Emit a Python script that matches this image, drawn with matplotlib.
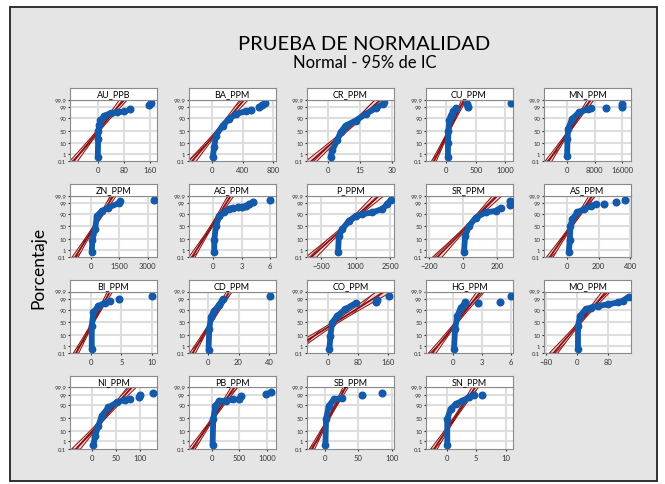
import matplotlib
matplotlib.use('Agg')
import numpy as np
import matplotlib.pyplot as plt
from matplotlib.patches import Rectangle
from statistics import NormalDist

nd = NormalDist()

# panel names, in reading order (5 per row)
NAMES = ['AU_PPB', 'BA_PPM', 'CR_PPM', 'CU_PPM', 'MN_PPM',
         'ZN_PPM', 'AG_PPM', 'P_PPM', 'SR_PPM', 'AS_PPM',
         'BI_PPM', 'CD_PPM', 'CO_PPM', 'HG_PPM', 'MO_PPM',
         'NI_PPM', 'PB_PPM', 'SB_PPM', 'SN_PPM']

XTICKS = [[0, 80, 160], [0, 400, 800], [0, 15, 30], [0, 500, 1000], [0, 8000, 16000],
          [0, 1500, 3000], [0, 3, 6], [-500, 1000, 2500], [-200, 0, 200], [0, 200, 400],
          [0, 5, 10], [0, 20, 40], [0, 80, 160], [0, 3, 6], [-80, 0, 80],
          [0, 50, 100], [0, 500, 1000], [0, 50, 100], [0, 5, 10]]

XLIM = [(-86, 183), (-304, 826), (-10, 31), (-355, 1122), (-6690, 18467),
        (-1092, 3495), (-2.62, 6.57), (-1127, 2675), (-220, 288), (-147, 406),
        (-3.38, 10.82), (-12.3, 43.9), (-55.9, 175), (-2.87, 6.2), (-84.4, 139.6),
        (-44.8, 134.4), (-426, 1159), (-26.5, 103.5), (-3.57, 11.18)]

# fitted normal (mean, stdev)
FIT_MEAN = [2, 80, 8.3, 43, 700, 187, -0.2, 530, 24, 25,
            0.38, 2.2, 20, 0.36, 8, 25, 22, 6, 1.35]
FIT_STDEV = [25, 110, 5.3, 83, 1990, 328, 0.67, 480, 57, 44,
             0.9, 3.85, 42, 0.82, 22, 18.6, 125, 8.1, 1.13]
N_OBS = 90

# main cloud of points: (value, percent)
BODY = [
    [(0, 0.4), (1, 20), (2, 50), (4, 70), (8, 85), (20, 93), (40, 96), (60, 96.5), (80, 97.2)],
    [(10, 0.4), (30, 5), (52, 31), (139, 69), (226, 88), (313, 95), (443, 97.5)],
    [(1.1, 0.4), (1.9, 2.3), (4.2, 16), (5.8, 43), (8.2, 69), (12.9, 84), (17.6, 95),
     (22.3, 98.7), (25.7, 99.6), (26.2, 99.76)],
    [(25, 0.4), (28, 10), (35, 50), (50, 85), (75, 93), (120, 97.5), (160, 98.8)],
    [(0, 0.5), (100, 20), (290, 57), (1470, 88), (3435, 96.6), (5892, 98.3), (7000, 98.7)],
    [(55, 0.6), (90, 9.4), (231, 38), (319, 85), (584, 94), (937, 97.1), (1466, 99), (1554, 99.4)],
    [(0.1, 0.6), (0.1, 9), (0.28, 51), (0.63, 85), (1.16, 92), (1.69, 96), (2.05, 97)],
    [(233, 0.6), (262, 16), (408, 38), (700, 71), (993, 85), (1285, 89), (1724, 92),
     (2163, 96), (2382, 98.7), (2528, 99.6)],
    [(5, 0.6), (11, 16), (34, 51), (73, 81), (131, 92), (190, 94), (220, 97)],
    [(11, 0.6), (17, 9), (21, 51), (32, 76), (65, 92), (108, 96), (151, 98), (183, 98.7)],
    [(0.17, 0.36), (0.17, 36), (0.44, 84), (1.26, 95), (2.35, 97.5), (3.17, 98.2)],
    [(0.66, 0.3), (1.1, 25), (2.2, 71), (4.3, 88), (7.6, 96), (9.7, 99)],
    [(3.6, 0.36), (6.3, 9), (10.7, 49), (24, 74), (46, 90.6), (73, 97.3)],
    [(0.1, 0.36), (0.21, 24.5), (0.45, 74), (0.8, 93), (1.26, 97.2), (1.3, 98)],
    [(3.1, 0.36), (3.1, 35), (8.4, 74), (23, 90.6), (36, 93), (54, 94.9), (80, 96.4),
     (106, 97.7), (119, 98.5), (134, 99.5)],
    [(3.4, 0.36), (6.9, 4), (13.8, 23), (20.7, 60), (34.4, 86), (51.7, 94.4), (69, 96.8), (79, 97.2)],
    [(13, 0.4), (25, 47), (62, 89), (135, 96), (257, 96), (379, 97)],
    [(1, 0.36), (2, 47), (6, 89), (13.5, 97), (26, 98)],
    [(0.12, 0.36), (0.12, 47), (0.68, 82), (1.53, 92), (2.67, 96), (3.8, 98.2), (4.66, 99)],
]

# isolated points: (value, percent)
OUTLIERS = [
    [(100, 98.5), (158, 99.4), (165, 99.7)],
    [(509, 98.2), (617, 99.0), (650, 99.4), (696, 99.7)],
    [],
    [(355, 99.6), (375, 99.1), (1090, 99.7)],
    [(11300, 98.7), (15720, 99.6), (15920, 99.1)],
    [(3318, 99.6)],
    [(2.6, 97.2), (3.0, 97.5), (3.46, 98), (3.8, 98.7), (4.17, 99.3), (6.0, 99.6)],
    [],
    [(276, 98.5), (276, 99.5)],
    [(237, 98.7), (309, 99.3), (367, 99.6)],
    [(4.54, 99), (10.0, 99.6)],
    [(40.4, 99.6)],
    [(126, 98), (130, 98.8), (162, 99.6)],
    [(2.65, 97.6), (4.9, 98), (6.0, 99.6)],
    [],
    [(96.4, 98.2), (100, 99), (126, 99.5)],
    [(501, 97.4), (532, 98.6), (989, 99.2), (1081, 99.6)],
    [(56, 99), (86, 99.5)],
    [(6.07, 99)],
]

PCT_TICKS = [0.1, 1, 10, 50, 90, 99, 99.9]
PCT_LABELS = ['0.1', '1', '10', '50', '90', '99', '99.9']

BLUE = '#145aaa'
RED = '#8b0f0f'

plt.rcParams['font.family'] = ['Lato', 'DejaVu Sans']
plt.rcParams['hatch.linewidth'] = 0.6
plt.rcParams['hatch.color'] = RED

W, H = 665, 485
fig = plt.figure(figsize=(W / 100, H / 100), dpi=100)
fig.patch.set_facecolor('white')
fig.add_artist(Rectangle((10 / W, 1 - 482 / H), 647 / W, 474 / H, transform=fig.transFigure,
                         facecolor='#e5e5e5', edgecolor='#222222', lw=1.3, zorder=-10))

fig.text(364.5 / W, 1 - 44 / H, 'PRUEBA DE NORMALIDAD', ha='center', va='center', fontsize=14.5)
fig.text(364.5 / W, 1 - 63 / H, 'Normal - 95% de IC', ha='center', va='center', fontsize=12)
fig.text(38 / W, 1 - 268 / H, 'Porcentaje', rotation=90, ha='center', va='center', fontsize=12.5)

zt = [nd.inv_cdf(p / 100) for p in PCT_TICKS]
zlo, zhi = zt[0], zt[-1]
pw, ph, sh = 87, 61.7, 11.5

for i, name in enumerate(NAMES):
    r, c = divmod(i, 5)
    left = 70 + c * 118.5
    top = 100.7 + r * 95.9
    ax = fig.add_axes([left / W, 1 - (top + ph) / H, pw / W, ph / H])
    sax = fig.add_axes([left / W, 1 - top / H, pw / W, sh / H])
    sax.set_xticks([])
    sax.set_yticks([])
    sax.set_facecolor('white')
    for s in sax.spines.values():
        s.set_color('#8a8a8a')
    sax.text(0.5, 0.5, name, ha='center', va='center', fontsize=6.5, transform=sax.transAxes)

    ax.set_facecolor('white')
    ax.set_xlim(XLIM[i])
    ax.set_ylim(zlo, zhi)
    ax.set_yticks(zt)
    ax.set_yticklabels(PCT_LABELS)
    ax.set_xticks(XTICKS[i])
    ax.tick_params(axis='y', labelsize=4.3, length=1.5, pad=1, colors='#333333')
    ax.tick_params(axis='x', labelsize=5.5, length=1.5, pad=2, colors='#333333')
    for s in ax.spines.values():
        s.set_color('#8a8a8a')
    for z in zt[1:-1]:
        ax.axhline(z, color='#dedede', lw=1.5, zorder=0)
    for xv in XTICKS[i]:
        ax.axvline(xv, color='#dedede', lw=1.5, zorder=0)

    # fitted line with confidence band
    mu, sd = FIT_MEAN[i], FIT_STDEV[i]
    zz = np.linspace(zlo, zhi, 60)
    xf = mu + sd * zz
    half = 1.96 * sd * np.sqrt(1 / N_OBS + zz ** 2 / (2 * N_OBS))
    ax.fill_betweenx(zz, xf - half, xf + half, facecolor='#f3d6d6', edgecolor=RED,
                     hatch='////', lw=0.7, zorder=2)
    ax.plot(xf, zz, color=RED, lw=1.3, zorder=3)

    bx = [v for v, p in BODY[i]]
    bz = [nd.inv_cdf(p / 100) for v, p in BODY[i]]
    ax.plot(bx, bz, color=BLUE, lw=4.2, solid_capstyle='round', solid_joinstyle='round', zorder=4)
    ax.plot(bx, bz, 'o', color=BLUE, ms=4.6, zorder=4)
    if OUTLIERS[i]:
        ox = [v for v, p in OUTLIERS[i]]
        oz = [nd.inv_cdf(p / 100) for v, p in OUTLIERS[i]]
        ax.plot(ox, oz, 'o', color=BLUE, ms=4.8, zorder=5)

fig.savefig('out.png', dpi=100)
